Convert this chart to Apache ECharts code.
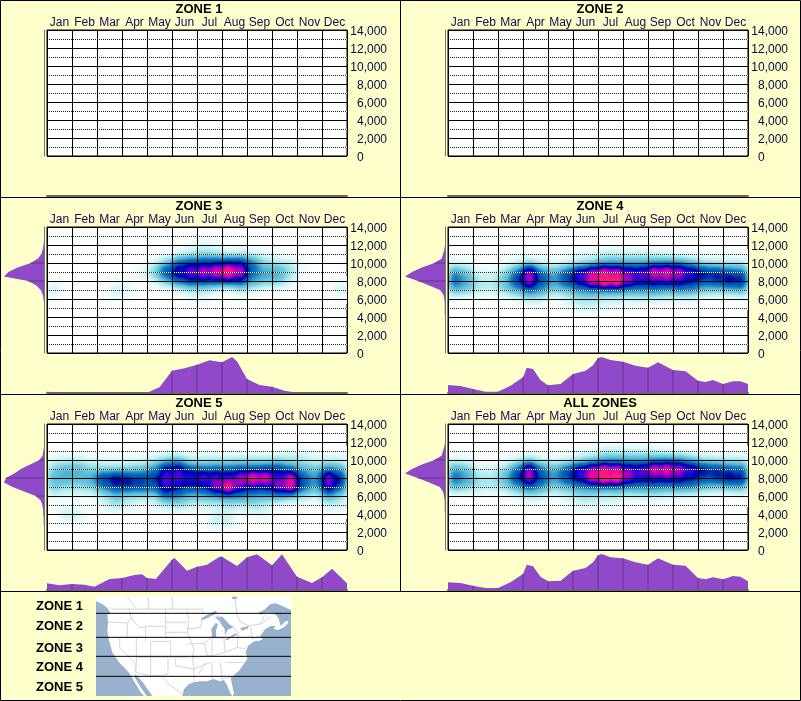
<!DOCTYPE html>
<html>
<head>
<meta charset="utf-8">
<title>Zones</title>
<script src="https://cdn.jsdelivr.net/npm/echarts@6/dist/echarts.min.js"></script>
<style>
  html, body { margin: 0; padding: 0; background: #ffffcc; }
  #main { width: 801px; height: 701px; }
</style>
</head>
<body>
<div id="main"></div>
<script>
const months = ['Jan','Feb','Mar','Apr','May','Jun','Jul','Aug','Sep','Oct','Nov','Dec'];
const panelNames = ['ZONE 1','ZONE 2','ZONE 3','ZONE 4','ZONE 5','ALL ZONES'];
const zoneNames = ['ZONE 1','ZONE 2','ZONE 3','ZONE 4','ZONE 5'];
const altitudes = [0,500,1000,1500,2000,2500,3000,3500,4000,4500,5000,5500,6000,6500,7000,7500,8000,8500,9000,9500,10000,10500,11000,11500,12000,12500,13000,13500,14000];

// half month cells, Jan .. Dec
const heatMonths = [0.25,0.75,1.25,1.75,2.25,2.75,3.25,3.75,4.25,4.75,5.25,5.75,6.25,6.75,7.25,7.75,8.25,8.75,9.25,9.75,10.25,10.75,11.25,11.75];
const heatRows = [12000,11000,10000,9000,8000,7000,6000,5000,4000,3000];

const zone3Heat = [
  [0,0,0,0,0,0,0,0,0,0,0,6,8,5,0,0,0,0,0,0,0,0,0,0],
  [0,0,0,0,0,0,0,0,0,0,8,15,22,18,12,15,10,5,0,0,0,0,0,0],
  [0,0,0,0,0,0,0,0,8,28,48,52,52,54,58,58,44,22,18,14,3,0,0,0],
  [0,0,0,0,0,0,0,8,28,52,62,72,78,84,96,80,40,35,35,22,4,0,0,0],
  [0,0,0,0,0,0,0,0,8,28,46,52,52,50,52,50,36,30,28,12,0,0,0,0],
  [18,0,0,0,0,18,10,0,0,0,5,14,14,8,0,16,8,0,0,0,0,0,0,18],
  [0,0,0,0,0,0,0,0,0,0,0,8,8,0,0,0,0,0,0,0,0,0,0,0],
  [0,0,0,0,0,0,0,0,0,0,0,0,0,0,0,0,0,0,0,0,0,0,0,0],
  [0,0,0,0,0,0,0,0,0,0,0,0,0,0,0,0,0,0,0,0,0,0,0,0],
  [0,0,0,0,0,0,0,0,0,0,0,0,0,0,0,0,0,0,0,0,0,0,0,0]
];
const zone4Heat = [
  [0,0,0,0,0,0,0,0,0,0,0,0,0,0,0,0,0,0,0,0,0,0,0,0],
  [0,0,0,0,0,0,0,0,0,3,6,8,14,14,12,12,10,6,4,0,0,0,0,0],
  [8,6,0,0,2,10,20,10,6,9,16,22,30,32,32,32,36,38,38,30,18,16,14,14],
  [38,28,8,8,22,42,75,42,32,48,65,76,84,78,68,68,84,86,78,68,58,55,48,45],
  [45,35,18,15,28,52,75,48,35,50,62,82,97,95,72,62,62,65,62,55,48,52,60,58],
  [32,26,16,14,24,32,44,36,26,28,36,38,38,38,36,36,40,32,40,38,28,26,28,32],
  [0,0,0,0,0,7,16,13,0,11,18,18,13,13,11,13,11,11,7,7,0,0,0,3],
  [0,0,0,0,0,0,0,0,0,4,10,10,7,4,0,0,0,0,0,0,0,0,0,0],
  [0,0,0,0,0,0,0,0,0,0,0,0,0,0,0,0,0,0,0,0,0,0,0,0],
  [0,0,0,0,0,0,0,0,0,0,0,0,0,0,0,0,0,0,0,0,0,0,0,0]
];
const zone5Heat = [
  [0,0,0,0,0,0,0,0,0,0,0,0,0,0,0,0,0,0,0,0,0,0,0,0],
  [0,0,0,0,0,0,0,0,0,0,0,0,4,0,0,0,0,0,0,6,8,4,0,0],
  [8,12,14,7,7,6,6,8,14,24,30,14,14,16,16,18,18,18,22,16,16,10,12,12],
  [24,32,32,24,22,22,24,27,38,60,64,48,44,46,46,48,46,50,52,42,32,27,40,32],
  [30,34,30,34,55,62,56,52,50,66,66,66,70,66,62,76,88,84,62,80,46,34,74,56],
  [28,20,20,26,40,50,52,50,46,66,56,50,52,72,90,64,58,56,72,84,46,34,66,46],
  [8,8,8,4,16,26,20,20,20,42,38,28,32,36,38,38,32,32,36,28,20,12,32,20],
  [0,0,0,0,8,20,12,3,8,16,20,14,10,10,16,16,20,12,3,0,0,0,12,12],
  [0,18,16,0,0,0,0,0,0,0,0,0,0,10,10,0,6,10,0,0,0,0,0,0],
  [0,0,0,0,0,0,0,0,0,0,0,0,0,14,14,0,0,0,0,0,0,0,0,0]
];
const allHeat = [
  [0,0,0,0,0,0,0,0,0,0,0,0,0,0,0,0,0,0,0,0,0,0,0,0],
  [0,0,0,0,0,0,0,0,0,3,6,8,14,14,12,12,10,6,4,0,0,0,0,0],
  [8,6,0,0,2,10,20,10,6,9,16,22,30,32,32,32,36,38,38,30,18,16,14,14],
  [36,28,10,10,22,42,75,42,32,48,65,76,84,78,68,68,84,86,78,68,58,55,48,45],
  [44,35,20,18,28,52,75,48,35,50,62,82,97,95,72,62,62,65,62,55,48,52,60,58],
  [32,26,18,16,24,33,44,36,26,30,36,38,38,38,36,38,40,35,40,38,30,26,30,32],
  [0,0,0,0,0,8,16,13,4,11,18,19,13,15,11,13,13,11,7,7,0,0,0,3],
  [0,0,0,0,0,0,0,0,0,4,10,10,8,5,0,0,0,0,0,0,0,0,0,0],
  [0,0,0,0,0,0,0,0,0,0,0,0,0,0,0,0,0,0,0,0,0,0,0,0],
  [0,0,0,0,0,0,0,0,0,0,0,0,0,0,0,0,0,0,0,0,0,0,0,0]
];

// month profile under each panel: [month position, height]
const zone3Months = [[0,4],[0.5,1],[1,0],[1.5,0],[2,1],[2.5,3],[3,1],[3.5,0],[4,1],[4.5,17],[5,67],[5.5,74],[6,85],[6.5,98],[7,92],[7.4,108],[7.6,95],[8,42],[8.5,24],[9,19],[9.5,7],[10,1],[10.5,0],[11,0],[11.5,0],[12,2]];
const zone4Months = [[0,24],[0.5,21],[1,12],[1.5,4],[2,4],[2.5,22],[3,47],[3.15,76],[3.4,72],[3.7,39],[4,23],[4.5,27],[5,57],[5.5,67],[5.8,83],[6,105],[6.15,108],[6.5,99],[7,94],[7.5,82],[8,76],[8.4,92],[9,69],[9.5,65],[10,37],[10.3,33],[10.6,39],[11,27],[11.4,35],[11.7,35],[12,27]];
const zone5Months = [[0,20],[0.5,14],[1,18],[1.5,16],[1.9,10],[2.5,33],[3,36],[3.5,45],[3.8,47],[4,36],[4.35,33],[5,91],[5.1,96],[5.6,58],[6,70],[6.4,76],[6.9,100],[7,100],[7.6,72],[8,98],[8.4,107],[9,74],[9.4,107],[10,40],[10.6,21],[11,38],[11.4,64],[12,20]];
const allMonths = [[0,23],[0.5,21],[1,13],[1.5,6],[2,6],[2.5,23],[3,48],[3.15,76],[3.4,71],[3.7,40],[4,26],[4.5,28],[5,58],[5.5,66],[5.8,83],[6,104],[6.15,108],[6.5,98],[7,95],[7.5,83],[8,76],[8.4,95],[9,76],[9.5,73],[10,36],[10.3,32],[10.6,38],[11,32],[11.4,42],[11.7,40],[12,26]];

// altitude profile left of each panel, one value per entry of altitudes
const zone3Alt = [0,0,0,0,0,0,0,0,0,0,0,0,1,4,10,23,48,121,108,80,40,18,8,4,1,0,0,0,0];
const zone4Alt = [0,0,0,0,0,0,0,0,0,1,1,1,2,5,15,48,82,121,100,70,32,10,6,2,0,0,0,0,0];
const zone5Alt = [0,0,0,0,0,0,1,1,2,3,5,10,25,60,95,121,115,90,70,42,14,4,2,0,0,0,0,0,0];
const allAlt = [0,0,0,0,0,0,0,0,0,1,1,1,3,6,16,48,82,121,100,70,32,10,6,2,0,0,0,0,0];

const heatByPanel = [null, null, zone3Heat, zone4Heat, zone5Heat, allHeat];
const monthsByPanel = [[], [], zone3Months, zone4Months, zone5Months, allMonths];
const altByPanel = [[], [], zone3Alt, zone4Alt, zone5Alt, allAlt];

const heatColors = ['#ffffff','#f2fcfc','#e6fafa','#d5f5f5','#c0f0f2','#a8e8ec','#8cdde6','#70cade','#60c0d8','#3fa8d0','#2080c5','#0068bc','#0050b5','#0000a0','#0808e0','#8000c8','#e000a8','#ff1880','#ff1880','#ff1880','#ff1880'];

// map, in units of its own picture (3 units a pixel, y down)
const mapBounds = [[6,6],[591,6],[591,306],[6,306]];
const landOutline = [[6,6],[591,6],[591,48],[570,38],[545,28],[530,30],[510,48],[493,56],[500,62],[515,56],[530,56],[545,62],[553,72],[556,82],[560,95],[575,82],[583,80],[582,88],[570,100],[552,108],[538,104],[545,96],[530,96],[513,106],[498,126],[506,136],[495,140],[480,142],[462,155],[455,175],[460,195],[435,230],[410,252],[415,275],[420,300],[416,306],[410,300],[400,275],[390,258],[378,262],[358,255],[340,262],[320,262],[300,265],[285,270],[270,285],[265,306],[175,306],[150,270],[125,240],[122,250],[140,280],[158,306],[150,306],[140,295],[120,262],[108,240],[95,225],[75,205],[55,175],[45,140],[40,110],[42,85],[40,62],[50,58],[40,42],[25,30],[6,22]];
const lakes = [
  [[319,75],[340,62],[365,50],[370,57],[345,70],[327,78]],
  [[354,130],[352,105],[365,87],[372,90],[366,110],[367,130]],
  [[363,68],[385,68],[405,90],[418,100],[400,108],[393,125],[392,105],[385,95],[375,82]],
  [[392,137],[425,118],[432,120],[400,138]],
  [[438,103],[465,95],[462,103],[445,110]],
  [[412,8],[430,8],[426,16],[416,15]]
];
const stateLines = [
  [[50,45],[324,45],[330,62]],
  [[370,60],[380,85]],[[415,95],[432,118]],[[465,95],[500,90],[530,68]],[[500,90],[512,62]],
  [[100,8],[125,42]],[[163,8],[163,45]],[[235,8],[235,45]],[[424,15],[428,60],[440,85],[465,95]],
  [[42,85],[70,85],[100,87],[112,72],[105,45]],
  [[112,72],[135,100],[155,100]],[[155,97],[215,97]],[[155,97],[155,142]],[[77,130],[155,130]],
  [[100,87],[100,130]],[[77,130],[77,160],[122,205],[125,235]],[[127,130],[127,210],[125,235]],
  [[127,190],[285,190]],[[170,142],[170,245]],[[170,142],[230,142],[230,190]],[[215,45],[215,130],[230,130]],
  [[215,85],[278,85]],[[215,115],[280,115]],[[222,190],[222,240],[200,245]],
  [[125,235],[165,245],[200,245],[225,270],[265,300]],
  [[245,190],[245,215],[300,225],[300,265]],
  [[278,45],[285,85],[280,115],[300,165],[295,190],[300,225]],
  [[280,150],[330,148],[354,130]],[[278,105],[320,100],[325,75]],[[330,148],[340,185]],
  [[354,130],[354,185]],[[389,130],[394,175]],[[354,130],[389,132]],[[394,175],[354,185],[295,190]],
  [[334,187],[445,187]],[[334,205],[314,240]],[[354,205],[354,255]],[[379,205],[384,255],[409,250]],
  [[394,205],[449,205]],[[300,225],[350,205]],[[432,120],[430,160],[455,165]],[[394,175],[430,160]],[[470,100],[475,135],[500,125]]
];
const zoneLines = [58,130,187,247];

const panelX = [0,401,0,401,0,401];
const panelY = [0,0,197,197,394,394];

function flip (points) {
  return points.map(function (p) { return [p[0], -p[1]]; });
}

function polygonFeature (name, ring) {
  const closed = flip(ring);
  closed.push(closed[0]);
  return { type: 'Feature', properties: { name: name }, geometry: { type: 'Polygon', coordinates: [closed] } };
}

echarts.registerMap('plotbox', {
  type: 'FeatureCollection',
  features: [polygonFeature('box', [[0,0],[12,0],[12,-14000],[0,-14000]])]
});

const mapFeatures = [polygonFeature('water', mapBounds), polygonFeature('land', landOutline)];
lakes.forEach(function (lake, i) { mapFeatures.push(polygonFeature('lake' + i, lake)); });
echarts.registerMap('usa', { type: 'FeatureCollection', features: mapFeatures });

const grids = [], xAxes = [], yAxes = [], series = [], geos = [], titles = [];

panelNames.forEach(function (name, p) {
  const px = panelX[p], py = panelY[p];
  titles.push({
    text: name, left: px + 199, top: py + 3, textAlign: 'center', padding: 0,
    textStyle: { fontFamily: 'Liberation Sans', fontSize: 13, fontWeight: 'bold', color: '#000000' }
  });

  // main plot
  const main = grids.length;
  grids.push({ left: px + 47, top: py + 30, width: 300, height: 126, show: true, backgroundColor: '#ffffff', borderColor: '#000000', borderWidth: 1 });
  xAxes.push({
    gridIndex: main, type: 'category', position: 'top', data: months, z: 6,
    axisLine: { show: false }, axisTick: { show: false },
    axisLabel: { interval: 0, margin: 1, fontFamily: 'Liberation Sans', fontSize: 12, color: '#1c0650' },
    splitLine: { show: true, interval: 0, lineStyle: { color: '#000000', width: 1 } }
  });
  yAxes.push({
    gridIndex: main, type: 'value', position: 'right', min: 0, max: 14000, interval: 2000, z: 5,
    axisLine: { show: false }, axisTick: { show: false },
    axisLabel: {
      margin: 40, fontFamily: 'Liberation Sans', fontSize: 12, color: '#000a40', align: 'right', padding: [3, 0, 0, 0],
      formatter: function (v) { return v === 0 ? '{zero|0}' : v.toLocaleString('en-US'); },
      rich: { zero: { width: 30, align: 'left', fontFamily: 'Liberation Sans', fontSize: 12, color: '#000a40' } }
    },
    splitLine: { show: true, lineStyle: { color: '#000000', width: 1 } },
    minorTick: { show: false, splitNumber: 2 },
    minorSplitLine: { show: true, lineStyle: { color: '#222222', width: 1, type: [1, 1] } }
  });
  // white gaps of the dotted lines, they show over the dark part of the heat
  yAxes.push({
    gridIndex: main, type: 'value', position: 'right', min: 0, max: 14000, interval: 2000, z: 4,
    axisLine: { show: false }, axisTick: { show: false }, axisLabel: { show: false },
    splitLine: { show: false },
    minorTick: { show: false, splitNumber: 2 },
    minorSplitLine: { show: true, lineStyle: { color: '#ffffff', width: 1, type: [1, 1], dashOffset: 1 } }
  });

  const heat = heatByPanel[p];
  if (heat) {
    const data = [];
    heat.forEach(function (row, r) {
      row.forEach(function (v, c) {
        if (v > 0) data.push([heatMonths[c], heatRows[r], v]);
      });
    });
    geos.push({
      map: 'plotbox', left: px + 47, top: py + 30, width: 300, height: 126, silent: true, z: 1,
      label: { show: false }, itemStyle: { areaColor: 'rgba(0,0,0,0)', borderWidth: 0 }
    });
    series.push({ type: 'heatmap', coordinateSystem: 'geo', geoIndex: geos.length - 1, data: data, pointSize: 8, blurSize: 8, minOpacity: 1, maxOpacity: 1, z: 2, silent: true, name: 'heat' + p });
  }

  // month profile below
  const low = grids.length;
  grids.push({ left: px + 47, top: py + 160, width: 300, height: 36 });
  xAxes.push({
    gridIndex: low, type: 'value', min: 0, max: 12,
    axisLine: { show: true, onZero: false, lineStyle: { color: '#6b6b50', width: 2 } },
    axisTick: { show: false }, axisLabel: { show: false }, splitLine: { show: false }
  });
  yAxes.push({ gridIndex: low, type: 'value', min: 0, max: 108, show: false, splitLine: { show: false } });
  const monthData = monthsByPanel[p];
  series.push({
    type: 'line', xAxisIndex: xAxes.length - 1, yAxisIndex: yAxes.length - 1, data: monthData, symbol: 'none', silent: true,
    lineStyle: { width: 0 }, areaStyle: { color: '#8f49c9', opacity: 1 }, itemStyle: { color: '#8f49c9' }
  });
  series.push({
    type: 'bar', xAxisIndex: xAxes.length - 1, yAxisIndex: yAxes.length - 1, barWidth: 1, silent: true,
    data: monthData.filter(function (d) { return d[0] % 1 === 0 && d[0] > 0 && d[0] < 12; }),
    itemStyle: { color: '#5d3a80' }, z: 3
  });

  // altitude profile on the left
  const side = grids.length;
  grids.push({ left: px + 4, top: py + 30, width: 40, height: 126 });
  xAxes.push({ gridIndex: side, type: 'value', min: 0, max: 121, inverse: true, show: false, splitLine: { show: false } });
  yAxes.push({
    gridIndex: side, type: 'category', data: altitudes, boundaryGap: false, position: 'right',
    axisLine: { show: true, onZero: false, lineStyle: { color: '#777766', width: 1 } },
    axisTick: { show: false }, axisLabel: { show: false }, splitLine: { show: false }
  });
  const altData = altByPanel[p];
  series.push({
    type: 'line', xAxisIndex: xAxes.length - 1, yAxisIndex: yAxes.length - 1, data: altData, symbol: 'none', silent: true,
    lineStyle: { width: 0 }, areaStyle: { color: '#8f49c9', opacity: 1 }, itemStyle: { color: '#8f49c9' }
  });
  series.push({
    type: 'bar', xAxisIndex: xAxes.length - 1, yAxisIndex: yAxes.length - 1, barWidth: 1, silent: true,
    data: altData.map(function (v, i) { return altitudes[i] % 2000 === 0 ? v : null; }),
    itemStyle: { color: '#5d3a80' }, z: 3
  });
});

const heatIndexes = [];
series.forEach(function (s, i) { if (s.type === 'heatmap') heatIndexes.push(i); });

// the little map
geos.push({
  map: 'usa', left: 96, top: 596, width: 195, height: 100, silent: true, z: 1,
  label: { show: false },
  itemStyle: { areaColor: '#ffffff', borderWidth: 0 },
  regions: [{ name: 'water', itemStyle: { areaColor: '#98b1cd', borderWidth: 0 } }]
    .concat(lakes.map(function (l, i) { return { name: 'lake' + i, itemStyle: { areaColor: '#98b1cd', borderWidth: 0 } }; }))
});
series.push({
  type: 'lines', coordinateSystem: 'geo', geoIndex: geos.length - 1, polyline: true, silent: true, z: 2,
  lineStyle: { color: '#d6d6d6', width: 1, opacity: 1 },
  data: stateLines.map(function (l) { return { coords: flip(l) }; })
});
series.push({
  type: 'lines', coordinateSystem: 'geo', geoIndex: geos.length - 1, polyline: true, silent: true, z: 3,
  lineStyle: { color: '#000000', width: 1, opacity: 1 },
  data: zoneLines.map(function (y) { return { coords: [[6, -y], [591, -y]] }; })
});

// borders and zone names
const frame = [
  [0.5,0.5,800.5,0.5],[0.5,700.5,800.5,700.5],[0.5,0.5,0.5,700.5],[800.5,0.5,800.5,700.5],
  [0.5,197.5,800.5,197.5],[0.5,394.5,800.5,394.5],[0.5,591.5,800.5,591.5],[400.5,0.5,400.5,591.5]
];
const graphics = frame.map(function (l) {
  return { type: 'line', shape: { x1: l[0], y1: l[1], x2: l[2], y2: l[3] }, style: { stroke: '#000000', lineWidth: 1 }, silent: true, z: 20 };
});
const zoneLabelY = [606,626,648,667,687];
zoneNames.forEach(function (n, i) {
  graphics.push({
    type: 'text', x: 36, y: zoneLabelY[i], silent: true, z: 20,
    style: { text: n, fontFamily: 'Liberation Sans', fontSize: 13, fontWeight: 'bold', fill: '#000000', textVerticalAlign: 'middle' }
  });
});

const chart = echarts.init(document.getElementById('main'));
chart.setOption({
  animation: false,
  backgroundColor: '#ffffcc',
  title: titles,
  grid: grids,
  xAxis: xAxes,
  yAxis: yAxes,
  geo: geos,
  visualMap: { show: false, type: 'continuous', min: 0, max: 100, seriesIndex: heatIndexes, inRange: { color: heatColors } },
  graphic: graphics,
  series: series
});
</script>
</body>
</html>
